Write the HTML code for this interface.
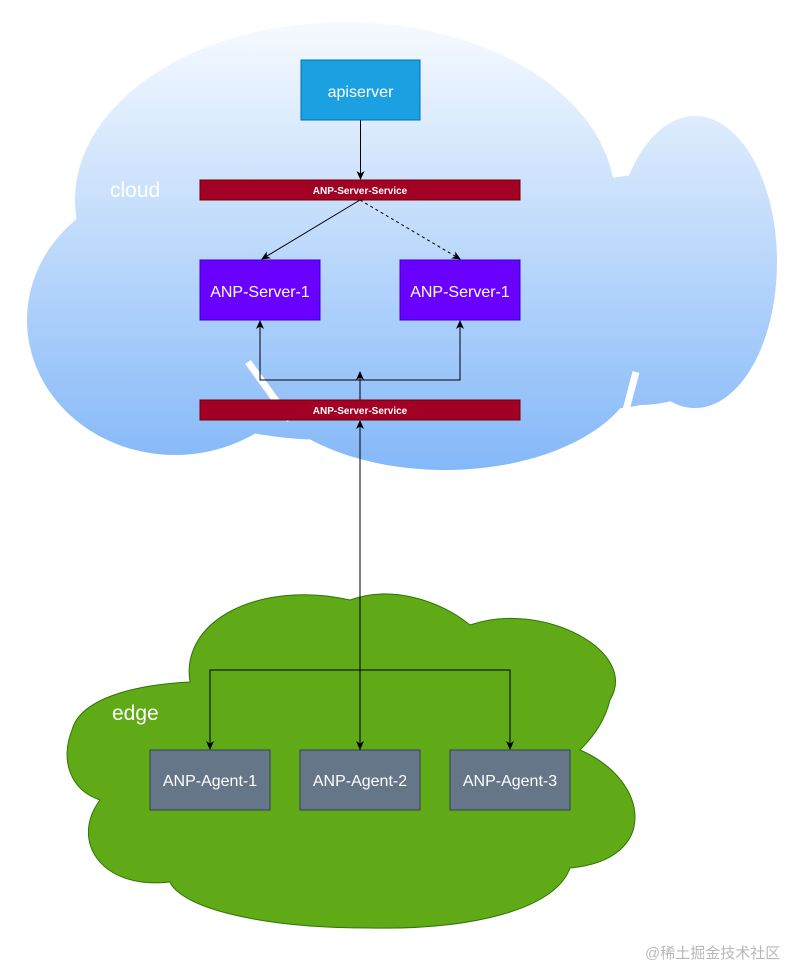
<!DOCTYPE html>
<html><head><meta charset="utf-8"><style>
html,body{margin:0;padding:0;background:#fff;width:801px;height:971px;overflow:hidden}
svg{display:block}
text{font-family:"Liberation Sans","Noto Sans CJK SC",sans-serif}
</style></head><body>
<svg width="801" height="971" viewBox="0 0 801 971" xmlns="http://www.w3.org/2000/svg">
<defs>
<linearGradient id="bg" x1="0" y1="15" x2="0" y2="470" gradientUnits="userSpaceOnUse">
<stop offset="0" stop-color="#f8fbff"/><stop offset="1" stop-color="#84b8f8"/>
</linearGradient>
<marker id="ar" markerWidth="10" markerHeight="10" refX="8" refY="5" orient="auto" markerUnits="userSpaceOnUse">
<path d="M0,1 L9,5 L0,9 L2.5,5 Z" fill="#000"/>
</marker>
</defs>
<g fill="url(#bg)">
<ellipse cx="345" cy="200" rx="270" ry="178"/>
<ellipse cx="695" cy="262" rx="82" ry="146"/>
<ellipse cx="640" cy="290" rx="120" ry="115"/>
<ellipse cx="175" cy="320" rx="148" ry="135"/>
<ellipse cx="445" cy="360" rx="195" ry="110"/>
<ellipse cx="590" cy="300" rx="170" ry="110"/>
<ellipse cx="330" cy="320" rx="230" ry="120"/>
</g>
<g stroke="#fff" stroke-width="7" fill="none">
<path d="M62 185 L70 222"/><path d="M612 118 L620 152"/>
<path d="M248 362 L290 420"/><path d="M636 372 L626 410"/>
</g>
<path fill="#60a917" stroke="#2d7600" stroke-width="1" d="M190 682 C180 620,260 580,350 600 C390 585,440 600,470 625 C540 600,640 650,610 700 C605 720,595 735,580 750 C650 780,660 860,570 868 C555 910,470 930,370 928 C250 928,180 905,170 882 C100 890,70 840,100 800 C70 790,60 760,72 730 C80 700,130 685,190 682 Z"/>
<text x="110" y="197" font-size="21" fill="#fff">cloud</text>
<text x="112" y="720" font-size="21" fill="#fff">edge</text>
<rect x="301" y="60" width="119" height="60" fill="#1ba1e2" stroke="#006eaf"/>
<text x="360.5" y="97" font-size="16" fill="#fff" text-anchor="middle">apiserver</text>
<rect x="200" y="180" width="320" height="20" fill="#a20025" stroke="#6f0000"/>
<text x="360" y="194" font-size="10" font-weight="bold" fill="#fff" text-anchor="middle">ANP-Server-Service</text>
<rect x="200" y="400" width="320" height="20" fill="#a20025" stroke="#6f0000"/>
<text x="360" y="414" font-size="10" font-weight="bold" fill="#fff" text-anchor="middle">ANP-Server-Service</text>
<rect x="200" y="260" width="120" height="60" fill="#6a00ff" stroke="#3700cc"/>
<text x="260" y="297" font-size="16" fill="#fff" text-anchor="middle">ANP-Server-1</text>
<rect x="400" y="260" width="120" height="60" fill="#6a00ff" stroke="#3700cc"/>
<text x="460" y="297" font-size="16" fill="#fff" text-anchor="middle">ANP-Server-1</text>
<g fill="#647687" stroke="#314354">
<rect x="150" y="750" width="120" height="60"/>
<rect x="300" y="750" width="120" height="60"/>
<rect x="450" y="750" width="120" height="60"/>
</g>
<g font-size="16" fill="#fff" text-anchor="middle">
<text x="210" y="786">ANP-Agent-1</text>
<text x="360" y="786">ANP-Agent-2</text>
<text x="510" y="786">ANP-Agent-3</text>
</g>
<g stroke="#000" stroke-width="1" fill="none">
<path d="M360.5 120 V179" marker-end="url(#ar)"/>
<path d="M360 200 L262 259" marker-end="url(#ar)"/>
<path d="M360 200 L460 259" stroke-dasharray="3,3" marker-end="url(#ar)"/>
<path d="M360 400 V380 H260 V321" marker-end="url(#ar)"/>
<path d="M360 380 H460 V321" marker-end="url(#ar)"/>
<path d="M360 372 V391" transform="rotate(180 360 381.5)" marker-end="url(#ar)"/>
<path d="M360 750 V421" marker-end="url(#ar)"/>
<path d="M360 670 V749" marker-end="url(#ar)"/>
<path d="M360 670 H210 V749" marker-end="url(#ar)"/>
<path d="M360 670 H510 V749" marker-end="url(#ar)"/>
</g>
<text x="645" y="958" font-size="15" fill="#b8b8b8">@稀土掘金技术社区</text>
</svg>
</body></html>
